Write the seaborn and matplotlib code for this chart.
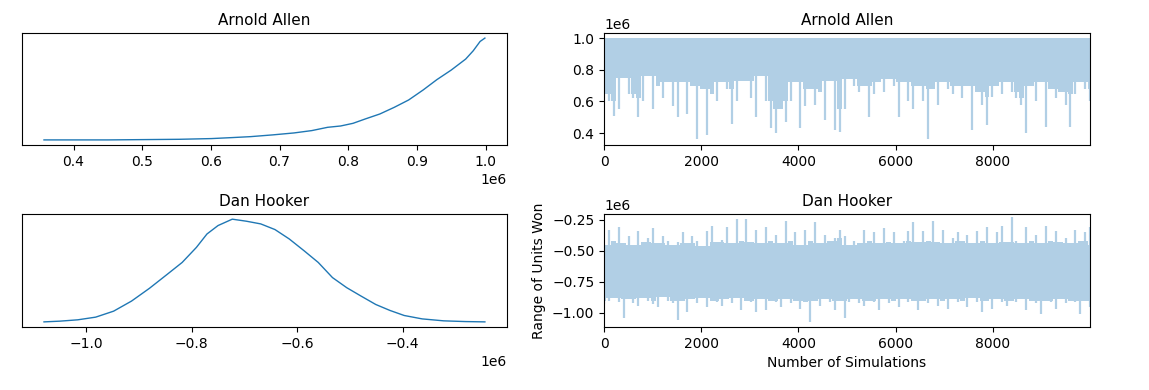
import numpy as np
import pandas as pd
import matplotlib
matplotlib.use("Agg")
import matplotlib.pyplot as plt
import matplotlib.colors as mcolors
import seaborn as sns

"""Posterior density read off the chart (x in units, density rescaled, peak = 1)"""
allen_kde_x = [0.357, 0.45, 0.502, 0.554, 0.601, 0.632, 0.658, 0.69, 0.721, 0.747,
               0.77, 0.789, 0.807, 0.825, 0.846, 0.867, 0.888, 0.909, 0.929, 0.95,
               0.971, 0.982, 0.992, 0.999]
allen_kde_y = [0.0, 0.0, 0.003, 0.006, 0.013, 0.023, 0.032, 0.049, 0.068, 0.091,
               0.123, 0.136, 0.162, 0.205, 0.253, 0.318, 0.39, 0.487, 0.588, 0.682,
               0.789, 0.87, 0.961, 0.994]

hooker_kde_x = [-1.08, -1.05, -1.016, -0.982, -0.948, -0.914, -0.88, -0.846, -0.818, -0.791,
                -0.771, -0.75, -0.723, -0.696, -0.669, -0.642, -0.615, -0.587, -0.56, -0.533,
                -0.506, -0.479, -0.451, -0.424, -0.397, -0.363, -0.322, -0.281, -0.244]
hooker_kde_y = [0.0, 0.007, 0.02, 0.046, 0.104, 0.202, 0.326, 0.463, 0.577, 0.723,
                0.853, 0.935, 0.997, 0.977, 0.951, 0.896, 0.805, 0.691, 0.577, 0.43,
                0.332, 0.251, 0.169, 0.111, 0.062, 0.029, 0.01, 0.003, 0.0]

"""Trace envelopes, one value per block of 100 simulations (units of 1e6)"""
n_sims = 10000

allen_high = 1.0
allen_low = [0.65, 0.60, 0.51, 0.55, 0.75, 0.65, 0.62, 0.50, 0.60, 0.76,
             0.55, 0.70, 0.62, 0.72, 0.57, 0.50, 0.72, 0.52, 0.70, 0.36,
             0.68, 0.39, 0.65, 0.60, 0.72, 0.68, 0.46, 0.60, 0.73, 0.73,
             0.62, 0.50, 0.76, 0.60, 0.43, 0.40, 0.55, 0.47, 0.60, 0.72,
             0.43, 0.57, 0.68, 0.58, 0.66, 0.48, 0.73, 0.42, 0.41, 0.55,
             0.74, 0.70, 0.66, 0.70, 0.50, 0.65, 0.72, 0.66, 0.74, 0.70,
             0.50, 0.72, 0.60, 0.55, 0.70, 0.60, 0.36, 0.68, 0.58, 0.72,
             0.68, 0.65, 0.70, 0.62, 0.70, 0.42, 0.66, 0.58, 0.45, 0.63,
             0.70, 0.65, 0.72, 0.66, 0.62, 0.58, 0.40, 0.70, 0.60, 0.72,
             0.44, 0.68, 0.62, 0.66, 0.58, 0.44, 0.65, 0.72, 0.68, 0.60]

hooker_high = [-0.45, -0.33, -0.42, -0.31, -0.44, -0.38, -0.45, -0.34, -0.43, -0.40,
               -0.32, -0.44, -0.38, -0.42, -0.45, -0.43, -0.35, -0.44, -0.38, -0.42,
               -0.46, -0.34, -0.30, -0.43, -0.41, -0.31, -0.44, -0.245, -0.42, -0.245,
               -0.43, -0.33, -0.44, -0.31, -0.42, -0.37, -0.44, -0.26, -0.42, -0.35,
               -0.45, -0.33, -0.42, -0.27, -0.44, -0.37, -0.42, -0.40, -0.33, -0.38,
               -0.45, -0.42, -0.44, -0.33, -0.42, -0.35, -0.44, -0.32, -0.43, -0.35,
               -0.44, -0.42, -0.34, -0.27, -0.43, -0.34, -0.42, -0.26, -0.43, -0.33,
               -0.44, -0.40, -0.35, -0.42, -0.37, -0.44, -0.34, -0.42, -0.31, -0.44,
               -0.35, -0.30, -0.43, -0.23, -0.42, -0.44, -0.31, -0.42, -0.37, -0.44,
               -0.30, -0.42, -0.34, -0.43, -0.40, -0.44, -0.33, -0.42, -0.35, -0.31]
hooker_low = [-0.93, -0.90, -0.88, -0.91, -1.04, -0.89, -0.92, -0.94, -0.88, -0.90,
              -0.93, -0.95, -0.87, -0.90, -0.92, -1.06, -0.90, -0.99, -0.89, -0.92,
              -0.88, -0.95, -0.90, -0.91, -0.94, -0.89, -0.92, -0.88, -0.98, -0.90,
              -0.91, -0.99, -0.89, -0.98, -0.90, -0.91, -0.95, -0.89, -0.92, -0.90,
              -0.97, -0.91, -1.07, -0.90, -0.94, -0.89, -0.91, -0.98, -0.90, -1.04,
              -0.91, -0.89, -0.92, -0.94, -0.90, -0.91, -0.98, -0.89, -0.92, -0.90,
              -0.95, -0.89, -0.91, -0.90, -0.98, -0.90, -0.92, -0.89, -0.94, -0.90,
              -0.97, -0.89, -0.91, -0.90, -0.95, -0.88, -0.91, -0.99, -0.90, -0.97,
              -0.89, -0.91, -0.94, -0.90, -0.91, -0.89, -0.98, -0.90, -0.92, -1.01,
              -0.90, -0.91, -0.97, -0.89, -0.92, -0.90, -0.91, -1.01, -0.90, -0.95]

fighters = ["Arnold Allen", "Dan Hooker"]
scale = 1e6
color = "C0"
# C0 at alpha 0.35 over white, kept opaque so overlapping marks do not darken
trace_color = 1 - 0.35 * (1 - np.array(mcolors.to_rgb(color)))


def kdeplot(ax, xs, ys, title):
    kde_df = pd.DataFrame({"units": np.array(xs) * scale, "density": ys})
    sns.lineplot(data=kde_df, x="units", y="density", ax=ax, color=color, linewidth=1)
    ax.set_title(title, fontsize=11)
    ax.set_yticks([])
    ax.set_xlabel("")
    ax.set_ylabel("")
    return


def traceplot(ax, low, high, title):
    idx = np.linspace(0, n_sims - 1, len(low))
    low = np.asarray(low) * scale
    high = np.broadcast_to(np.asarray(high, dtype=float), low.shape) * scale

    # solid core of the chain: the shallower of each block and its neighbours
    core_low = np.maximum(low, np.maximum(np.roll(low, 1), np.roll(low, -1)))
    core_high = np.minimum(high, np.minimum(np.roll(high, 1), np.roll(high, -1)))
    ax.fill_between(idx, core_low, core_high, step="mid", color=trace_color, linewidth=0)

    # thin excursions of each block
    ax.vlines(idx, low, high, color=trace_color, linewidth=1.6)
    ax.set_xlim(0, n_sims - 1)
    ax.set_title(title, fontsize=11)
    return


fig = plt.figure(figsize=(11.49, 3.9), dpi=100)
ax_kde1 = fig.add_axes([0.0191, 0.6282, 0.4221, 0.2872])
ax_tr1 = fig.add_axes([0.5257, 0.6282, 0.4230, 0.2872])
ax_kde2 = fig.add_axes([0.0191, 0.1615, 0.4221, 0.2897])
ax_tr2 = fig.add_axes([0.5257, 0.1615, 0.4230, 0.2897])

kdeplot(ax_kde1, allen_kde_x, allen_kde_y, fighters[0])
kdeplot(ax_kde2, hooker_kde_x, hooker_kde_y, fighters[1])
traceplot(ax_tr1, allen_low, allen_high, fighters[0])
traceplot(ax_tr2, hooker_low, hooker_high, fighters[1])

ax_tr1.set_ylim(0.325 * scale, 1.032 * scale)
ax_tr2.set_ylim(-1.113 * scale, -0.204 * scale)
ax_tr2.set_yticks(np.array([-1.0, -0.75, -0.5, -0.25]) * scale)

ax_tr2.set_xlabel("Number of Simulations")
ax_tr2.set_ylabel("Range of Units Won")

for ax in [ax_kde1, ax_kde2, ax_tr1, ax_tr2]:
    ax.tick_params(labelsize=10)

plt.savefig("out.png", dpi=100)
